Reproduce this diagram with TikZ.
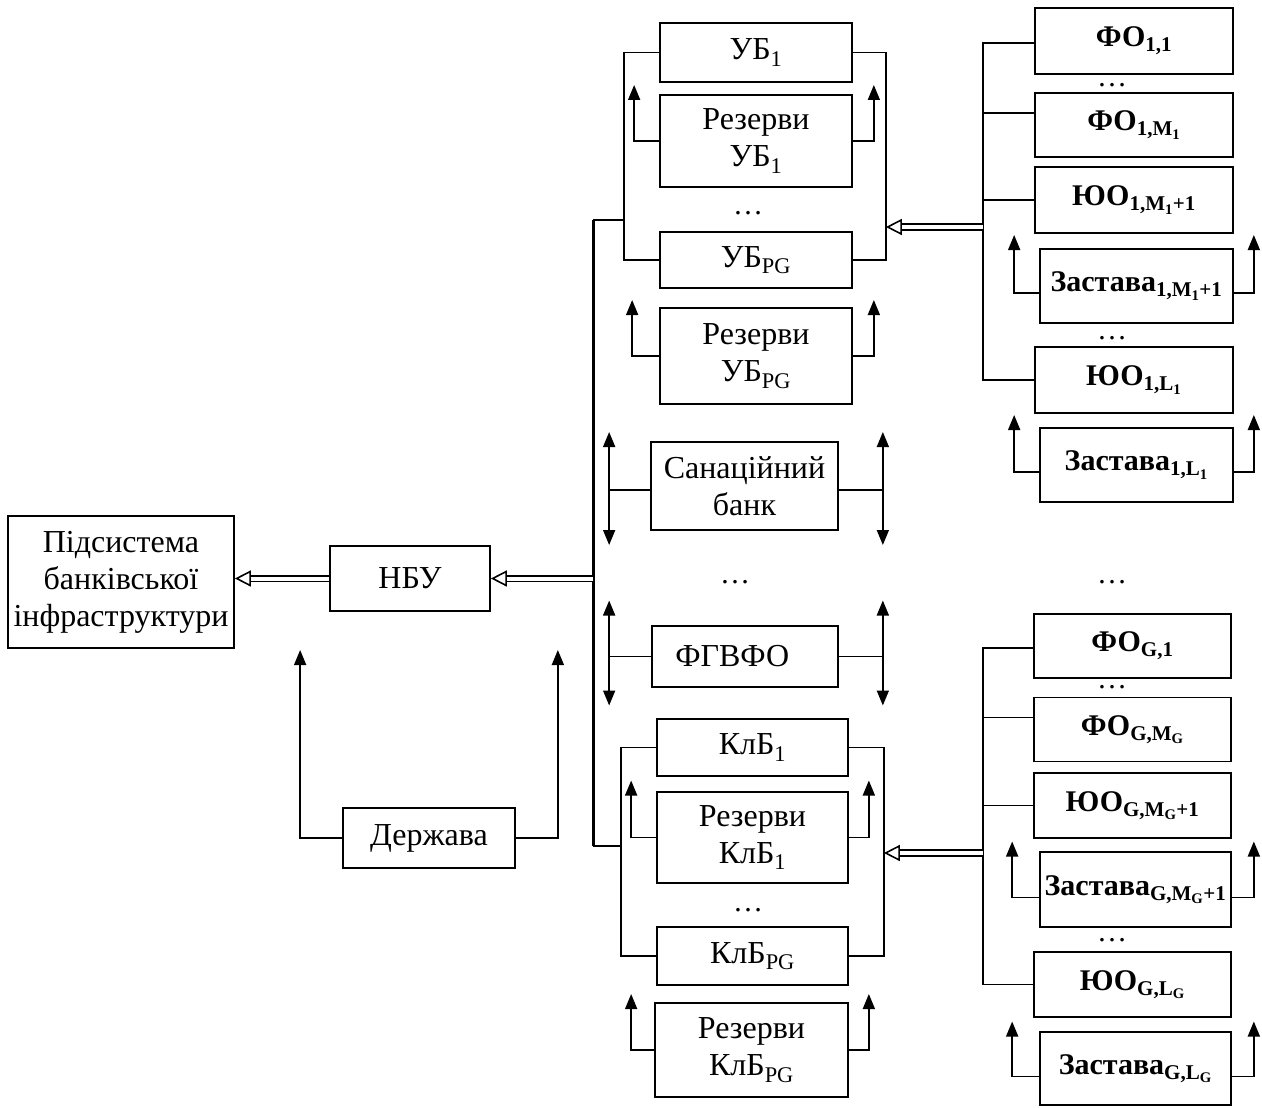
\documentclass[tikz,border=0pt]{standalone}
\usepackage{fontspec}
\setmainfont{Liberation Serif}
\usetikzlibrary{arrows.meta}
\begin{document}
\begin{tikzpicture}[x=1pt,y=-1pt,
  box/.style={draw, line width=1.7pt, inner sep=1pt, align=center, font=\fontsize{32}{37}\selectfont},
  bbox/.style={box, font=\fontsize{30}{34}\selectfont\bfseries},
  sz/.style 2 args={minimum width=#1, minimum height=#2},
  ln/.style={line width=1.6pt},
  arr/.style={ln, -{Triangle[length=15pt,width=12pt]}},
  darr/.style={ln, {Triangle[length=15pt,width=12pt]}-{Triangle[length=15pt,width=12pt]}},
  dblarr/.style={double, double distance=4pt, line width=1.6pt, -{Triangle[open,length=16pt,width=16pt]}},
  dots/.style={font=\fontsize{30}{36}\selectfont, inner sep=0pt}
]
\useasboundingbox (0,0) rectangle (1262,1108);

% left part
\node[box, sz={226}{132}] (infra) at (121,582) {Підсистема\\банківської\\інфраструктури};
\node[box, sz={160}{65}] (nbu) at (410,578.5) {НБУ};
\node[box, sz={172}{60}] (derzh) at (429,838) {Держава};

% UB group
\node[box, sz={192}{59}] (ub1) at (756,52.5) {УБ\textsubscript{1}};
\node[box, sz={192}{92}] (rub1) at (756,141) {Резерви\\УБ\textsubscript{1}};
\node[dots] (d1) at (748,213) {\ldots};
\node[box, sz={192}{56}] (ubpg) at (756,260) {УБ\textsubscript{PG}};
\node[box, sz={192}{96}] (rubpg) at (756,356) {Резерви\\УБ\textsubscript{PG}};

% middle
\node[box, sz={187}{88}] (san) at (744.5,486) {Санаційний\\банк};
\node[dots] (d2) at (735,582) {\ldots};
\node[box, sz={186}{61}] (fgv) at (745,656.5) {ФГВФО\hspace{0.8em}};

% KlB group
\node[box, sz={191}{57}] (kb1) at (752.5,747.5) {КлБ\textsubscript{1}};
\node[box, sz={191}{91}] (rkb1) at (752.5,837.5) {Резерви\\КлБ\textsubscript{1}};
\node[dots] (d3) at (748,910) {\ldots};
\node[box, sz={191}{58}] (kbpg) at (752.5,956) {КлБ\textsubscript{PG}};
\node[box, sz={193}{94}] (rkbpg) at (751.5,1050) {Резерви\\КлБ\textsubscript{PG}};

% right group 1
\node[bbox, sz={198}{66}] (fo11) at (1134,41) {ФО\textsubscript{1,1}};
\node[dots] (d4) at (1112,85) {\ldots};
\node[bbox, sz={198}{64}] (fo1m) at (1134,125) {ФО\textsubscript{1,M\textsubscript{1}}};
\node[bbox, sz={198}{66}] (yo1m) at (1134,200) {ЮО\textsubscript{1,M\textsubscript{1}+1}};
\node[bbox, sz={193}{74}] (z1m) at (1136.5,286) {Застава\textsubscript{1,M\textsubscript{1}+1}};
\node[dots] (d5) at (1112,338) {\ldots};
\node[bbox, sz={198}{66}] (yo1l) at (1134,380) {ЮО\textsubscript{1,L\textsubscript{1}}};
\node[bbox, sz={193}{74}] (z1l) at (1136.5,465) {Застава\textsubscript{1,L\textsubscript{1}}};

\node[dots] (d6) at (1112,582) {\ldots};

% right group G
\node[bbox, sz={197}{64}] (fog1) at (1132.5,646) {ФО\textsubscript{G,1}};
\node[dots] (d7) at (1112,687) {\ldots};
\node[bbox, sz={197}{64}] (fogm) at (1132.5,729.5) {ФО\textsubscript{G,M\textsubscript{G}}};
\node[bbox, sz={197}{65}] (yogm) at (1132.5,805.5) {ЮО\textsubscript{G,M\textsubscript{G}+1}};
\node[bbox, sz={191}{75}] (zgm) at (1135.5,889.5) {Застава\textsubscript{G,M\textsubscript{G}+1}};
\node[dots] (d8) at (1112,940) {\ldots};
\node[bbox, sz={197}{65}] (yogl) at (1132.5,984.5) {ЮО\textsubscript{G,L\textsubscript{G}}};
\node[bbox, sz={191}{73}] (zgl) at (1135.5,1068.5) {Застава\textsubscript{G,L\textsubscript{G}}};

% connectors: left
\coordinate (busT) at (593,220);
\coordinate (busB) at (593,846);
\draw[line width=3pt] (busT) -- (busB);
\draw[dblarr] (nbu.west) -- (nbu.west -| infra.east);
\draw[dblarr] (nbu.east -| busT) -- (nbu.east);
\draw[arr] (derzh.west) -- ++(-42,0) -- ++(0,-188);
\draw[arr] (derzh.east) -- ++(42,0) -- ++(0,-188);

% UB group connectors
\draw[ln] (ub1.west) -- ++(-35,0) coordinate (ubL) |- (ubpg.west);
\draw[ln] (ub1.east) -- ++(33,0) coordinate (ubR) |- (ubpg.east);
\draw[ln] (busT) -- (busT -| ubL);
\draw[arr] (rub1.west) -- ++(-25,0) -- ++(0,-56);
\draw[arr] (rub1.east) -- ++(21,0) -- ++(0,-56);
\draw[arr] (rubpg.west) -- ++(-27,0) -- ++(0,-56);
\draw[arr] (rubpg.east) -- ++(21,0) -- ++(0,-56);

% middle connectors
\draw[ln] ([yshift=-4pt]san.west) -- ++(-41,0) coordinate (sanL);
\draw[darr] ([yshift=58pt]sanL) -- ([yshift=-55pt]sanL);
\draw[ln] ([yshift=-4pt]san.east) -- ++(44,0) coordinate (sanR);
\draw[darr] ([yshift=58pt]sanR) -- ([yshift=-55pt]sanR);
\draw[ln] (fgv.west) -- ++(-42,0) coordinate (fgvL);
\draw[darr] ([yshift=56pt]fgvL) -- ([yshift=-49pt]fgvL);
\draw[ln] (fgv.east) -- ++(44,0) coordinate (fgvR);
\draw[darr] ([yshift=56pt]fgvR) -- ([yshift=-49pt]fgvR);

% KlB group connectors
\draw[ln] (kb1.west) -- ++(-35,0) coordinate (kbL) |- (kbpg.west);
\draw[ln] (kb1.east) -- ++(35,0) coordinate (kbR) |- (kbpg.east);
\draw[ln] (busB) -- (busB -| kbL);
\draw[arr] (rkb1.west) -- ++(-25,0) -- ++(0,-57);
\draw[arr] (rkb1.east) -- ++(20,0) -- ++(0,-57);
\draw[arr] (rkbpg.west) -- ++(-23,0) -- ++(0,-56);
\draw[arr] (rkbpg.east) -- ++(20,0) -- ++(0,-56);

% right group 1 connectors
\draw[ln] ([yshift=-2pt]fo11.west) -- ++(-51,0) coordinate (g1) |- (yo1l.west);
\draw[ln] ([yshift=12pt]fo1m.west) -- ++(-51,0);
\draw[ln] (yo1m.west) -- ++(-51,0);
\coordinate (a1) at (0,227);
\draw[dblarr] (g1 |- a1) -- (ubR |- a1);
\draw[arr] ([yshift=-7pt]z1m.west) -- ++(-25,0) -- ++(0,-58);
\draw[arr] ([yshift=-7pt]z1m.east) -- ++(20,0) -- ++(0,-58);
\draw[arr] ([yshift=-7pt]z1l.west) -- ++(-25,0) -- ++(0,-57);
\draw[arr] ([yshift=-7pt]z1l.east) -- ++(20,0) -- ++(0,-57);

% right group G connectors
\draw[ln] ([yshift=-2pt]fog1.west) -- ++(-50,0) coordinate (gG) |- (yogl.west);
\draw[ln] ([yshift=12pt]fogm.west) -- ++(-50,0);
\draw[ln] (yogm.west) -- ++(-50,0);
\coordinate (a2) at (0,853);
\draw[dblarr] (gG |- a2) -- (kbR |- a2);
\draw[arr] ([yshift=-8pt]zgm.west) -- ++(-27,0) -- ++(0,-56);
\draw[arr] ([yshift=-8pt]zgm.east) -- ++(22,0) -- ++(0,-56);
\draw[arr] ([yshift=-8pt]zgl.west) -- ++(-27,0) -- ++(0,-55);
\draw[arr] ([yshift=-8pt]zgl.east) -- ++(22,0) -- ++(0,-55);
\end{tikzpicture}
\end{document}
